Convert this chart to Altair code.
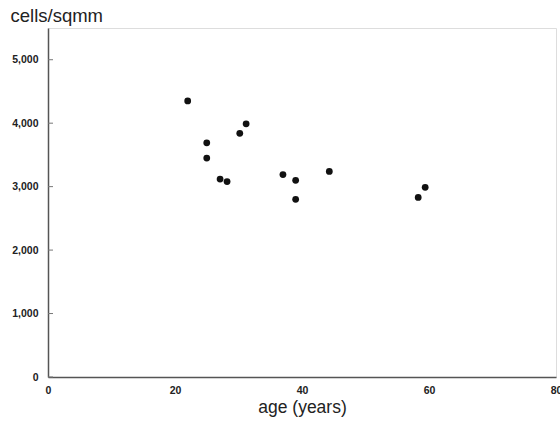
import altair as alt
import pandas as pd

ages = [22.0, 25.0, 25.0, 27.1, 28.2, 30.2, 31.2, 37.0, 39.0, 39.0, 44.3, 58.3, 59.4]
cells = [4350, 3690, 3450, 3120, 3080, 3840, 3990, 3190, 3100, 2800, 3240, 2830, 2990]
y_ticks = [0, 1000, 2000, 3000, 4000, 5000]
x_ticks = [0, 20, 40, 60, 80]

df = pd.DataFrame({"age": ages, "cells": cells})
ticks_df = pd.DataFrame({"v": y_ticks})

xs = alt.Scale(domain=[0, 80], nice=False)
ys = alt.Scale(domain=[0, 5500], nice=False)

y_axis = alt.Axis(title="cells/sqmm", values=y_ticks, format=",d",
                  grid=False,
                  ticks=False, domainColor="#555555", domainWidth=1.5,
                  labelFont="Liberation Sans", labelFontSize=10.5, labelFontWeight="bold",
                  labelColor="#222222", labelPadding=10,
                  titleFont="Liberation Sans", titleFontSize=18.5, titleFontWeight="normal",
                  titleColor="#222222", titleAngle=0, titleAlign="left",
                  titleBaseline="alphabetic", titleX=-38, titleY=-7)

points = alt.Chart(df).mark_circle(size=46, color="#111111", opacity=1).encode(
    x=alt.X("age:Q", scale=xs,
            axis=alt.Axis(title="age (years)", values=x_ticks, format="d", grid=False,
                          ticks=False, domainColor="#555555", domainWidth=1.5,
                          labelFont="Liberation Sans", labelFontSize=10.5, labelFontWeight="bold",
                          labelColor="#222222", labelPadding=8, labelFlush=False,
                          titleFont="Liberation Sans", titleFontSize=17.5, titleFontWeight="normal",
                          titleColor="#222222", titlePadding=3)),
    y=alt.Y("cells:Q", scale=ys, axis=y_axis),
)

tick_marks = alt.Chart(ticks_df).mark_rule(color="#777777", strokeWidth=1).encode(
    y=alt.Y("v:Q", scale=ys, axis=y_axis),
    x=alt.value(0),
    x2=alt.value(5),
)

chart = alt.layer(points, tick_marks).properties(
    width=508, height=349,
    autosize=alt.AutoSizeParams(type="none"),
    padding={"left": 48, "top": 28, "right": 4, "bottom": 46},
).configure_view(stroke="#bbbbbb", strokeWidth=1).configure(background="white")

chart.save("out.html", embed_options={"renderer": "svg", "actions": False})
